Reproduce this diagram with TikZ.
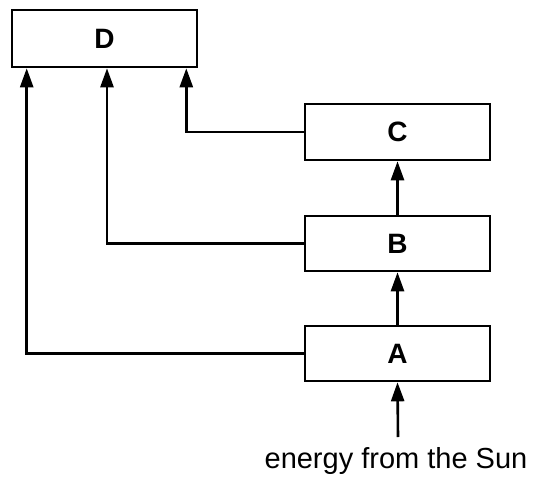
\documentclass[tikz,border=0pt]{standalone}
\usepackage{fontspec}
\setmainfont{Liberation Sans}
\usetikzlibrary{arrows.meta}
\begin{document}
\begin{tikzpicture}[x=1bp,y=-1bp,
  box/.style={draw,line width=2.6bp,rectangle,inner sep=0pt,minimum width=185bp,minimum height=57bp,font=\fontsize{28bp}{30bp}\selectfont\bfseries},
  conn/.style={line width=2.6bp,-{Triangle[length=19bp,width=13bp]}}]
\useasboundingbox (0,0) rectangle (534,478);
\node[box] (D) at (104.5,38.5) {D};
\node[box,minimum height=56bp] (C) at (397.5,132) {C};
\node[box,minimum height=55bp] (B) at (397.5,243.5) {B};
\node[box,minimum height=55bp] (A) at (397.5,353.5) {A};
\node[anchor=base,inner sep=0pt,font=\fontsize{29bp}{32bp}\selectfont] (E) at (396,468) {energy from the Sun};
\coordinate (src) at (398,437);
\draw[conn] (src) -- (A.south);
\draw[conn] (A.north) -- (B.south);
\draw[conn] (B.north) -- (C.south);
\draw[conn] (C.west) -| ([xshift=-12bp]D.south east);
\draw[conn] (B.west) -| ([xshift=2.5bp]D.south);
\draw[conn] (A.west) -| ([xshift=16bp]D.south west);
\end{tikzpicture}
\end{document}
